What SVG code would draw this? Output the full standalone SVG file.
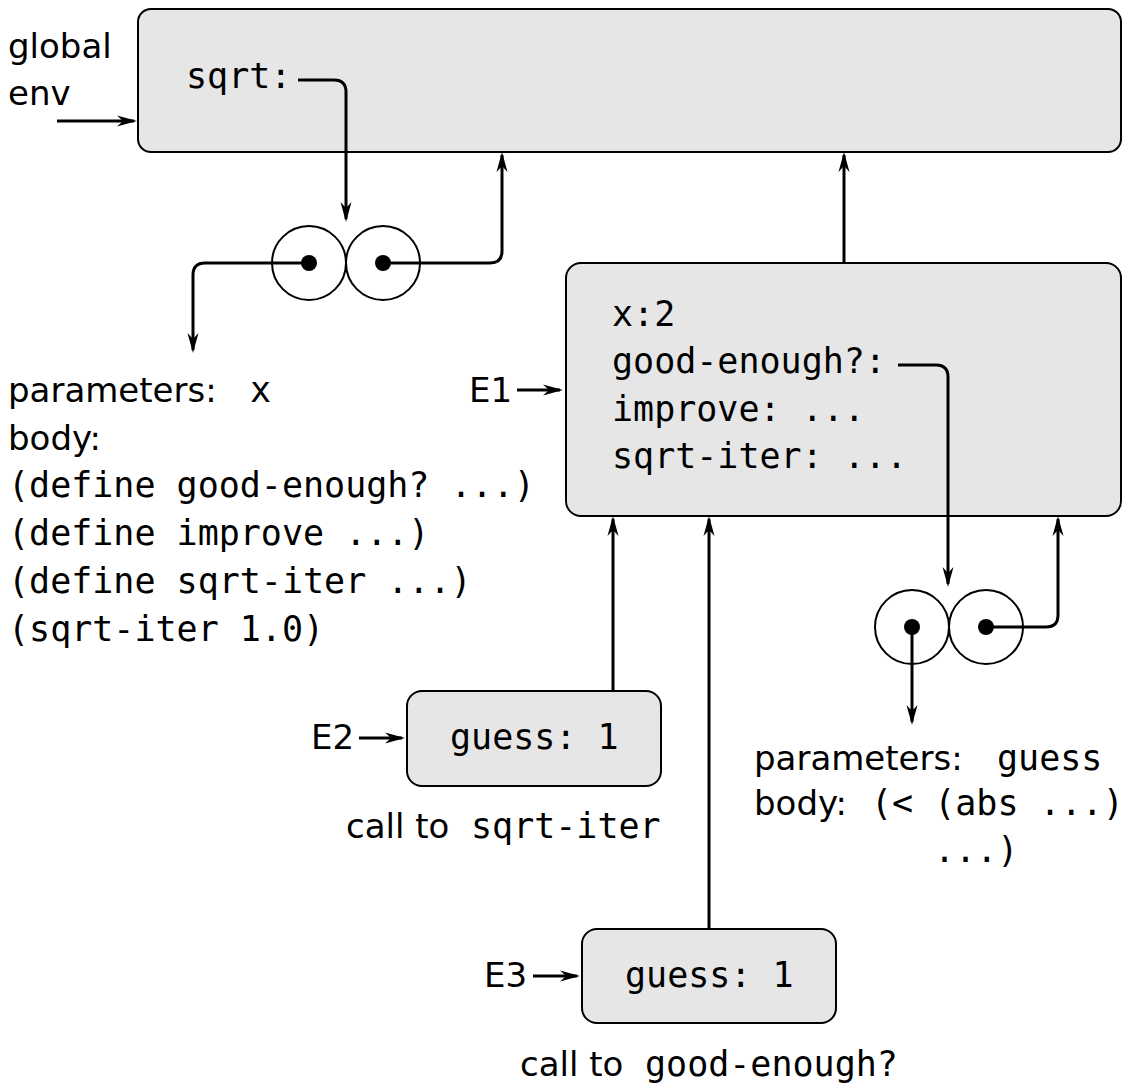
<svg xmlns="http://www.w3.org/2000/svg" width="1125" height="1084" viewBox="0 0 1125 1084">
<defs>
<marker id="arr" viewBox="-22 -8 26 16" markerWidth="26" markerHeight="16" refX="-3" refY="0" orient="auto" markerUnits="userSpaceOnUse">
<path d="M0,0 L-20,-5.5 L-14,0 L-20,5.5 Z" fill="#000"/>
</marker>
</defs>
<style>
.box{fill:#e6e6e6;stroke:#000;stroke-width:2}
.cell{fill:#fff;stroke:#000;stroke-width:2}
.dot{fill:#000}
.sans{font-family:"DejaVu Sans","Liberation Sans",sans-serif;font-size:34px;fill:#000}
.mono{font-family:"DejaVu Sans Mono","Liberation Mono",monospace;font-size:35px;fill:#000}
.conn path{fill:none;stroke:#000;stroke-width:3;marker-end:url(#arr)}
</style>
<rect width="1125" height="1084" fill="#fff"/>

<g id="global-env">
<rect class="box" x="138" y="9" width="983" height="143" rx="13"/>
<text class="sans" x="8" y="58">global</text>
<text class="sans" x="8" y="105">env</text>
<text class="mono" x="186" y="88">sqrt:</text>
</g>

<g id="sqrt-proc">
<circle class="cell" cx="309" cy="263" r="37"/>
<circle class="cell" cx="383" cy="263" r="37"/>
<circle class="dot" cx="309" cy="263" r="8"/>
<circle class="dot" cx="383" cy="263" r="8"/>
</g>

<g id="sqrt-text">
<text class="sans" x="8" y="402">parameters:</text>
<text class="mono" x="250" y="402">x</text>
<text class="sans" x="8" y="450">body:</text>
<text class="mono" x="8" y="497">(define good-enough? ...)</text>
<text class="mono" x="8" y="545">(define improve ...)</text>
<text class="mono" x="8" y="593">(define sqrt-iter ...)</text>
<text class="mono" x="8" y="641">(sqrt-iter 1.0)</text>
</g>

<g id="E1">
<rect class="box" x="566" y="263" width="555" height="253" rx="15"/>
<text class="sans" x="469" y="402">E1</text>
<text class="mono" x="612" y="326">x:2</text>
<text class="mono" x="612" y="373">good-enough?:</text>
<text class="mono" x="612" y="421">improve: ...</text>
<text class="mono" x="612" y="468">sqrt-iter: ...</text>
</g>

<g id="good-enough-proc">
<circle class="cell" cx="912" cy="627" r="37"/>
<circle class="cell" cx="986" cy="627" r="37"/>
<circle class="dot" cx="912" cy="627" r="8"/>
<circle class="dot" cx="986" cy="627" r="8"/>
</g>

<g id="good-enough-text">
<text class="sans" x="754" y="770">parameters:</text>
<text class="mono" x="997" y="770">guess</text>
<text class="sans" x="754" y="815">body:</text>
<text class="mono" x="871" y="815">(&lt; (abs ...)</text>
<text class="mono" x="934" y="862">...)</text>
</g>

<g id="E2">
<rect class="box" x="407" y="691" width="254" height="95" rx="15"/>
<text class="sans" x="311" y="749">E2</text>
<text class="mono" x="450" y="749">guess: 1</text>
<text class="sans" x="346" y="838">call to</text>
<text class="mono" x="471" y="838">sqrt-iter</text>
</g>

<g id="E3">
<rect class="box" x="582" y="929" width="254" height="94" rx="15"/>
<text class="sans" x="484" y="987">E3</text>
<text class="mono" x="625" y="987">guess: 1</text>
<text class="sans" x="520" y="1076">call to</text>
<text class="mono" x="645" y="1076">good-enough?</text>
</g>

<g id="connectors" class="conn">
<path d="M57,121 H134"/>
<path d="M298,80 H334 Q346,80 346,92 V219"/>
<path d="M383,263 H490 Q502,263 502,251 V155"/>
<path d="M309,263 H205 Q193,263 193,275 V350"/>
<path d="M844,263 V155"/>
<path d="M517,390 H560"/>
<path d="M898,365 H936 Q948,365 948,377 V584"/>
<path d="M986,627 H1046 Q1058,627 1058,615 V519"/>
<path d="M912,627 V722"/>
<path d="M613,691 V519"/>
<path d="M709,929 V519"/>
<path d="M359,738 H402"/>
<path d="M533,976 H577"/>
</g>
</svg>
